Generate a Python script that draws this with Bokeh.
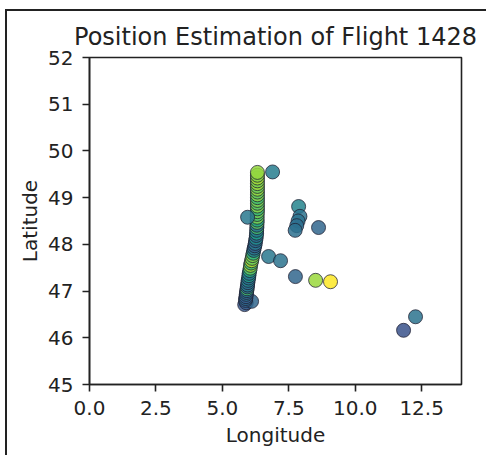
from bokeh.plotting import figure
from bokeh.models import ColumnDataSource, FixedTicker, PrintfTickFormatter
from bokeh.transform import linear_cmap
from bokeh.palettes import Viridis256
from bokeh.embed import file_html
from bokeh.resources import INLINE

# ---- data ----
track_lon = [5.84, 5.90, 6.10, 5.87, 5.88, 5.89, 5.90, 5.91, 5.92, 5.93, 5.94, 5.95, 5.96,
             5.97, 5.99, 6.00, 6.01, 6.03, 6.05, 6.06, 6.08, 6.10, 6.12, 6.14, 6.16, 6.18,
             6.20, 6.22, 6.24, 6.25, 6.27, 6.28, 6.29, 6.29, 6.30, 6.30, 6.31, 6.31, 6.31,
             6.31, 6.32, 6.32, 6.32, 6.32, 6.32, 6.32, 6.32, 6.32, 6.32, 6.32, 6.32, 6.32,
             6.32, 6.32, 6.32]
track_lat = [46.71, 46.75, 46.78, 46.80, 46.84, 46.88, 46.93, 46.97, 47.01, 47.05, 47.09,
             47.13, 47.18, 47.23, 47.28, 47.33, 47.38, 47.44, 47.49, 47.55, 47.60, 47.65,
             47.70, 47.76, 47.81, 47.87, 47.92, 47.97, 48.02, 48.08, 48.13, 48.19, 48.24,
             48.30, 48.36, 48.41, 48.47, 48.52, 48.58, 48.64, 48.70, 48.76, 48.82, 48.88,
             48.94, 49.00, 49.06, 49.12, 49.18, 49.24, 49.30, 49.36, 49.42, 49.48, 49.54]
track_val = [0.28, 0.30, 0.33, 0.32, 0.35, 0.30, 0.38, 0.33, 0.40, 0.70, 0.35, 0.42, 0.36,
             0.45, 0.38, 0.55, 0.40, 0.62, 0.75, 0.85, 0.70, 0.88, 0.78, 0.82, 0.65, 0.45,
             0.38, 0.32, 0.40, 0.35, 0.48, 0.36, 0.55, 0.42, 0.70, 0.38, 0.75, 0.60, 0.80,
             0.72, 0.78, 0.68, 0.82, 0.74, 0.80, 0.70, 0.82, 0.76, 0.84, 0.78, 0.85, 0.80,
             0.86, 0.82, 0.84]

other_lon = [6.89, 5.95, 7.87, 7.92, 7.85, 7.80, 7.74, 8.62, 6.74, 7.19, 7.75, 8.51, 9.07,
             12.27, 11.82]
other_lat = [49.55, 48.58, 48.81, 48.60, 48.50, 48.40, 48.30, 48.36, 47.74, 47.65, 47.31,
             47.23, 47.20, 46.45, 46.16]
other_val = [0.42, 0.40, 0.45, 0.38, 0.38, 0.36, 0.37, 0.33, 0.40, 0.38, 0.33, 0.85, 1.00,
             0.38, 0.25]

x_ticks = [0, 2.5, 5, 7.5, 10, 12.5]
y_ticks = [45, 46, 47, 48, 49, 50, 51, 52]

lon = track_lon + other_lon
lat = track_lat + other_lat
val = track_val + other_val

src = ColumnDataSource(dict(lon=lon, lat=lat, val=val))

FONT = "DejaVu Sans"
p = figure(width=481, height=446, x_range=(0, 14), y_range=(45, 52),
           output_backend="svg", toolbar_location=None,
           title="Position Estimation of Flight 1428",
           min_border_left=82, min_border_right=27, min_border_top=46, min_border_bottom=73)
p.margin = (9, 0, 0, 5)
p.styles = {"border-left": "2px solid #222", "border-top": "2px solid #222"}

p.scatter("lon", "lat", source=src, size=14,
          fill_color=linear_cmap("val", Viridis256, 0, 1), fill_alpha=0.85,
          line_color="#1e1e30", line_alpha=0.75, line_width=1)

p.title.text_font = FONT
p.title.text_font_size = "24px"
p.title.text_font_style = "normal"
p.title.text_color = "#222222"
p.title.align = "center"
p.title.standoff = 13

p.xgrid.visible = False
p.ygrid.visible = False
p.outline_line_color = "#222222"
p.outline_line_width = 1.6
p.outline_line_alpha = 1

p.xaxis.ticker = FixedTicker(ticks=x_ticks)
p.yaxis.ticker = FixedTicker(ticks=y_ticks)
p.xaxis.formatter = PrintfTickFormatter(format="%.1f")
p.xaxis.axis_label = "Longitude"
p.yaxis.axis_label = "Latitude"
for ax in (p.xaxis, p.yaxis):
    ax.axis_label_text_font = FONT
    ax.axis_label_text_font_size = "20px"
    ax.axis_label_text_font_style = "normal"
    ax.axis_label_text_color = "#222222"
    ax.major_label_text_font = FONT
    ax.major_label_text_font_size = "20px"
    ax.major_label_text_color = "#222222"
    ax.axis_line_color = "#222222"
    ax.axis_line_width = 1.6
    ax.major_tick_line_color = "#222222"
    ax.major_tick_line_width = 1.6
    ax.major_tick_out = 7
    ax.major_tick_in = 0
    ax.minor_tick_line_color = None
    ax.major_label_standoff = 9
p.xaxis.axis_label_standoff = 5
p.yaxis.axis_label_standoff = 3

open("out.html", "w").write(file_html(p, INLINE))
